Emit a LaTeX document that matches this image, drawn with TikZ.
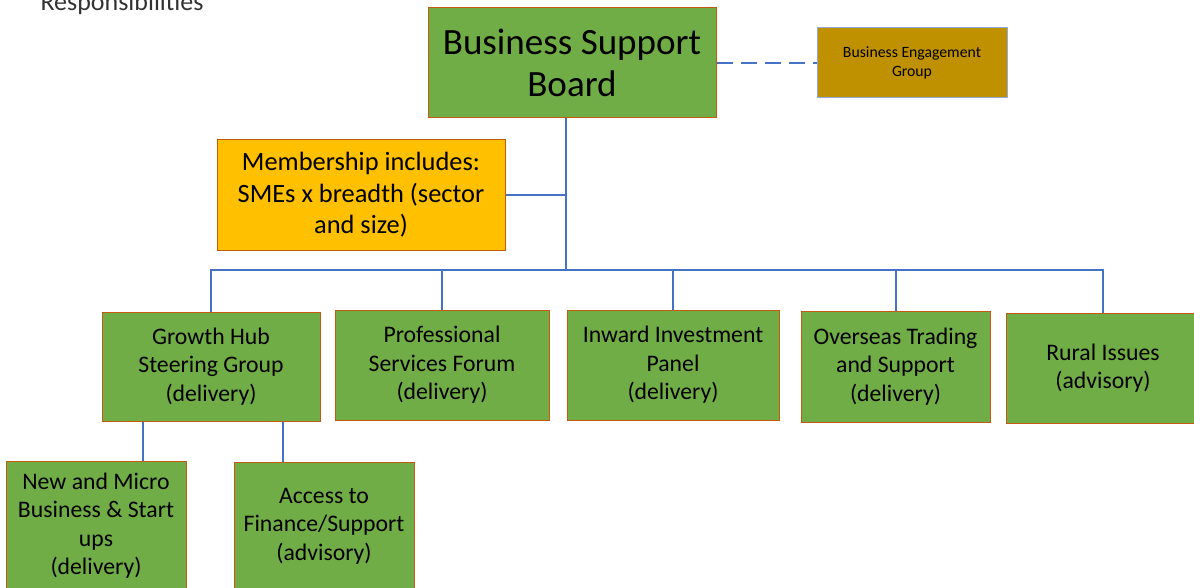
\documentclass[tikz,border=0pt]{standalone}
\usepackage{fontspec}
\setmainfont{Carlito}
\usetikzlibrary{calc}

\definecolor{boxgreen}{RGB}{112,173,71}
\definecolor{boxedge}{RGB}{197,90,17}
\definecolor{boxgold}{RGB}{191,144,0}
\definecolor{boxamber}{RGB}{255,192,0}
\definecolor{linkblue}{RGB}{68,114,196}
\definecolor{edgeblue}{RGB}{143,170,220}

\tikzset{
	unit/.style={draw=boxedge, fill=boxgreen, line width=0.75pt, align=center, inner sep=0pt,
		font=\fontsize{17.8}{21.3}\selectfont},
	link/.style={draw=linkblue, line width=1.5pt}}
\tikzset{every picture/.style={line width=0.75pt}}

\begin{document}
\begin{tikzpicture}[x=0.75pt,y=0.75pt,yscale=-1,xscale=1]
	\useasboundingbox (0,0) rectangle (1194,588);

	% Text Node
	\node (title) [anchor=base west, inner sep=0pt, font=\fontsize{19.5}{22}\selectfont, text=black!80] at (40,11) {Responsibilities};

	%Shape: Rectangle [board]
	\node (board) [unit, minimum width=216pt, minimum height=82.5pt, font=\fontsize{27.8}{32}\selectfont] at (572,63) {Business Support\\Board};
	%Shape: Rectangle [engagement]
	\node (engage) [unit, fill=boxgold, draw=edgeblue, minimum width=142.5pt, minimum height=52.5pt, font=\fontsize{11.8}{14}\selectfont] at (912,63) {Business Engagement\\Group};
	%Shape: Rectangle [membership]
	\node (member) [unit, fill=boxamber, minimum width=216pt, minimum height=82.5pt, font=\fontsize{19.8}{23.6}\selectfont] at (361,195) {Membership includes:\\SMEs x breadth (sector\\and size)};

	%Shape: Rectangle [second row]
	\node (growth) [unit, minimum width=163.5pt, minimum height=81.75pt] at (211,366.5) {Growth Hub\\Steering Group\\(delivery)};
	\node (forum) [unit, minimum width=160.5pt, minimum height=82.5pt] at (442,365) {Professional\\Services Forum\\(delivery)};
	\node (invest) [unit, minimum width=159pt, minimum height=82.5pt] at (673,365) {Inward Investment\\Panel\\(delivery)};
	\node (overseas) [unit, minimum width=141.75pt, minimum height=83.25pt] at (895.5,366.5) {Overseas Trading\\and Support\\(delivery)};
	\node (rural) [unit, minimum width=145.5pt, minimum height=82.5pt] at (1103,368) {Rural Issues\\(advisory)};

	%Shape: Rectangle [third row]
	\node (micro) [unit, minimum width=135pt, minimum height=96.75pt] at (96,525.5) {New and Micro\\Business \& Start\\ups\\(delivery)};
	\node (finance) [unit, minimum width=135pt, minimum height=96pt] at (324,526) {Access to\\Finance/Support\\(advisory)};

	% Connectors
	\coordinate (hub) at (566,270);
	\draw [link, dash pattern=on 12pt off 6pt] (board.east) -- (engage.west);
	\draw [link] (board.south -| hub) -- (hub);
	\draw [link] (member.east) -- (member.east -| hub);
	\draw [link] (growth.north) |- (rural.north |- hub) -- (rural.north);
	\draw [link] (forum.north) -- (forum.north |- hub);
	\draw [link] (invest.north) -- (invest.north |- hub);
	\draw [link] (overseas.north) -- (overseas.north |- hub);
	\draw [link] ([xshift=-51pt]growth.south) -- ([xshift=-51pt]growth.south |- micro.north);
	\draw [link] ([xshift=54pt]growth.south) -- ([xshift=54pt]growth.south |- finance.north);

	\end{tikzpicture}
\end{document}
